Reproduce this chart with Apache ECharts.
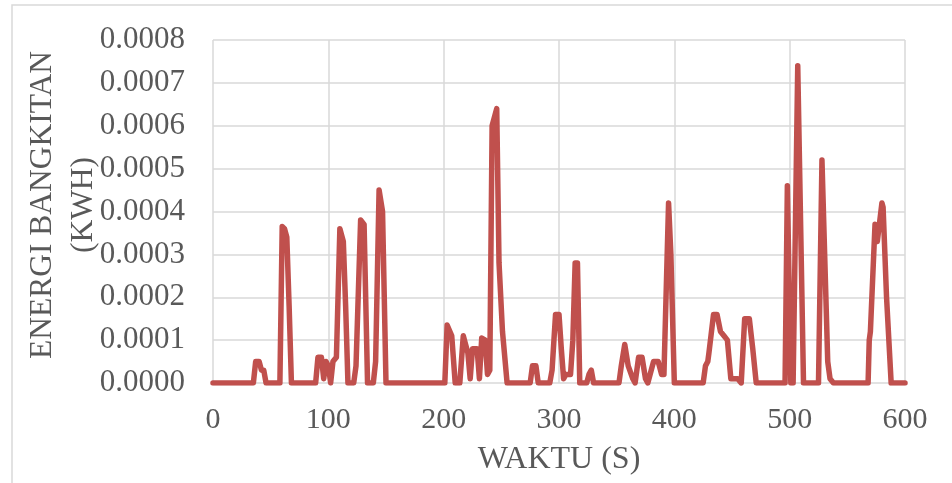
<!DOCTYPE html>
<html>
<head>
<meta charset="utf-8">
<script src="https://cdn.jsdelivr.net/npm/echarts@6/dist/echarts.min.js"></script>
<style>
  html, body { margin: 0; padding: 0; background: #fff; }
  #chart { width: 952px; height: 483px; }
</style>
</head>
<body>
<div id="chart"></div>
<script>
// waktu (s) and energi bangkitan (kWh)
var waktu = [
  0, 35, 37, 40, 42, 44, 46,
  58, 60, 62, 64, 66, 68,
  89, 91, 94, 96, 98, 100, 102, 104, 107, 110, 113, 115, 117,
  122, 124, 128, 131, 134,
  139, 141, 144, 147, 150,
  201, 203, 207, 210,
  214, 217, 219, 221, 223, 225, 229, 231, 233, 236, 238, 240, 242, 244, 246, 248, 251, 255,
  275, 277, 280, 282,
  292, 294, 297, 300, 302, 304, 306, 310, 312, 314, 316, 318,
  324, 326, 328, 330,
  352, 354, 357, 360, 364, 366, 369, 372, 375, 377, 382, 386, 389, 391, 395, 397, 400,
  425, 427, 429, 430, 434, 437, 440, 443, 446, 449, 452, 455, 458,
  459, 461, 465, 468, 471,
  496, 498, 501, 503, 507, 512,
  525, 528, 533, 535, 538,
  568, 569, 570, 574, 576, 580, 581, 584, 588, 600
];
var energi = [
  0, 0, 0.00005, 0.00005, 0.00003, 0.00003, 0,
  0, 0.000365, 0.00036, 0.00034, 0.00018, 0,
  0, 0.00006, 0.00006, 0.00001, 0.00005, 0.00004, 0, 0.00005, 0.00006, 0.00036, 0.00033, 0.00018, 0,
  0, 0.00004, 0.00038, 0.00037, 0,
  0, 0.00005, 0.00045, 0.0004, 0,
  0, 0.000135, 0.00011, 0,
  0, 0.00011, 0.00009, 0.00007, 0.00001, 0.00008, 0.00008, 0.00001, 0.000105, 0.0001, 0.00002, 0.00003, 0.0006, 0.00062, 0.00064, 0.00028, 0.00012, 0,
  0, 0.00004, 0.00004, 0,
  0, 0.00003, 0.00016, 0.00016, 0.00008, 0.00001, 0.00002, 0.00002, 0.0001, 0.00028, 0.00028, 0,
  0, 0.00002, 0.00003, 0,
  0, 0.00004, 0.00009, 0.00004, 0.00001, 0, 0.00006, 0.00006, 0.00001, 0, 0.00005, 0.00005, 0.00002, 0.00002, 0.00042, 0.0003, 0,
  0, 0.00004, 0.00005, 0.00007, 0.00016, 0.00016, 0.00012, 0.00011, 0.0001, 0.00001, 0.00001, 0.00001, 0,
  0, 0.00015, 0.00015, 0.00008, 0,
  0, 0.00046, 0, 0, 0.00074, 0,
  0, 0.00052, 0.00005, 0.00001, 0,
  0, 0.0001, 0.00012, 0.00037, 0.00033, 0.00042, 0.00041, 0.0002, 0, 0
];
var xTicks = [0, 100, 200, 300, 400, 500, 600];
var yTicks = [0, 0.0001, 0.0002, 0.0003, 0.0004, 0.0005, 0.0006, 0.0007, 0.0008];
var yTitle = "ENERGI BANGKITAN\n(KWH)";
var xTitle = "WAKTU (S)";

var font = "'Liberation Serif', 'DejaVu Serif', serif";
var textColor = "#595959";
var gridColor = "#d9d9d9";

var points = waktu.map(function (t, i) { return [t, energi[i]]; });

var myChart = echarts.init(document.getElementById("chart"));
var option = {
  backgroundColor: "#fff",
  animation: false,
  graphic: [
    {
      type: "rect",
      shape: { x: 12, y: 5, width: 1000, height: 1000 },
      style: { fill: "none", stroke: gridColor, lineWidth: 1.5 },
      silent: true
    },
    // y axis title, two lines, rotated
    {
      type: "text",
      x: 63,
      y: 205,
      rotation: Math.PI / 2,
      silent: true,
      style: {
        text: yTitle,
        fill: textColor,
        fontFamily: font,
        fontSize: 31.5,
        lineHeight: 41,
        align: "center",
        verticalAlign: "middle"
      }
    }
  ],
  grid: { left: 213, right: 47, top: 40, bottom: 100 },
  xAxis: {
    type: "value",
    min: xTicks[0],
    max: xTicks[xTicks.length - 1],
    interval: 100,
    name: xTitle,
    nameLocation: "middle",
    nameGap: 61,
    nameTextStyle: { fontFamily: font, fontSize: 32, color: textColor },
    axisLine: { show: false },
    axisTick: { show: false },
    axisLabel: { fontFamily: font, fontSize: 30, color: textColor, margin: 22 },
    splitLine: { show: true, lineStyle: { color: gridColor, width: 1.5 } }
  },
  yAxis: {
    type: "value",
    min: yTicks[0],
    max: yTicks[yTicks.length - 1],
    interval: 0.0001,
    axisLine: { show: false },
    axisTick: { show: false },
    axisLabel: {
      fontFamily: font, fontSize: 31, color: textColor, margin: 28,
      formatter: function (v) { return v.toFixed(4); }
    },
    splitLine: { show: true, lineStyle: { color: gridColor, width: 1.5 } }
  },
  series: [
    {
      type: "line",
      data: points,
      showSymbol: false,
      symbol: "none",
      lineStyle: { color: "#c0504d", width: 5.5, join: "round", cap: "round" },
      itemStyle: { color: "#c0504d" }
    }
  ]
};
myChart.setOption(option);
</script>
</body>
</html>
